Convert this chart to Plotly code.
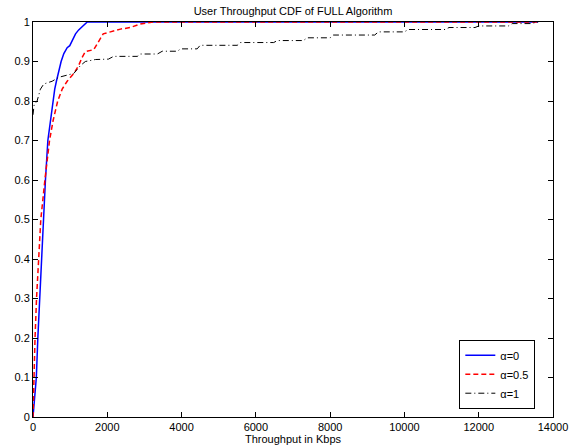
import plotly.graph_objects as go

# alpha = 0
x_a0 = [0, 90, 130, 180, 215, 265, 335, 400, 470, 535, 585, 630, 675, 757, 830, 920, 990, 1080, 1145, 1230, 1340, 1460, 13600]
y_a0 = [0, 0.1, 0.2, 0.3, 0.4, 0.5, 0.6, 0.7, 0.75, 0.8, 0.83, 0.85, 0.87, 0.9, 0.92, 0.935, 0.94, 0.96, 0.97, 0.98, 0.99, 1.0, 1.0]

# alpha = 0.5
x_a05 = [0, 20, 55, 95, 155, 210, 320, 445, 540, 665, 785, 920, 1100, 1230, 1320, 1410, 1635, 1770, 1890, 2085, 2355, 2620, 2890, 3240, 13600]
y_a05 = [0, 0.1, 0.2, 0.3, 0.4, 0.5, 0.6, 0.7, 0.75, 0.8, 0.83, 0.85, 0.87, 0.89, 0.91, 0.925, 0.93, 0.95, 0.97, 0.975, 0.982, 0.986, 0.995, 1.0, 1.0]

# alpha = 1
x_a1 = [0, 30, 110, 200, 290, 515, 695, 875, 1100, 1190, 1280, 1410, 1680, 2030, 2170, 2810, 2890, 3350, 3480, 3890,
        3970, 4420, 4500, 5500, 5580, 6480, 6580, 7280, 7380, 8000, 8090, 9200, 9300, 10000, 10100, 11100, 11200, 11900,
        12000, 12800, 12900, 13400, 13600]
y_a1 = [0.765, 0.79, 0.80, 0.83, 0.843, 0.85, 0.86, 0.865, 0.87, 0.88, 0.89, 0.90, 0.905, 0.906, 0.913, 0.913, 0.919, 0.919, 0.926, 0.926,
        0.932, 0.932, 0.941, 0.941, 0.948, 0.948, 0.953, 0.953, 0.960, 0.960, 0.967, 0.967, 0.975, 0.975, 0.981, 0.981, 0.986, 0.986,
        0.99, 0.99, 0.996, 0.996, 1.0]

x_ticks = [0, 2000, 4000, 6000, 8000, 10000, 12000, 14000]
x_tick_labels = ["0", "2000", "4000", "6000", "8000", "10000", "12000", "14000"]
y_ticks = [0, 0.1, 0.2, 0.3, 0.4, 0.5, 0.6, 0.7, 0.8, 0.9, 1]
y_tick_labels = ["0", "0.1", "0.2", "0.3", "0.4", "0.5", "0.6", "0.7", "0.8", "0.9", "1"]

FONT = "Liberation Sans, Arial, Helvetica, sans-serif"

fig = go.Figure()
fig.add_trace(go.Scatter(x=x_a0, y=y_a0, mode="lines", name="α=0",
                         line=dict(color="#0000ff", width=1.5)))
fig.add_trace(go.Scatter(x=x_a05, y=y_a05, mode="lines", name="α=0.5",
                         line=dict(color="#ff0000", width=1.5, dash="5px,3px")))
fig.add_trace(go.Scatter(x=x_a1, y=y_a1, mode="lines", name="α=1",
                         line=dict(color="#000000", width=1, dash="6px,3px,1px,3px")))

fig.update_layout(
    width=585, height=446,
    paper_bgcolor="white", plot_bgcolor="white",
    margin=dict(l=32.5, r=32, t=22.3, b=29.3, autoexpand=False),
    font=dict(family=FONT, size=11, color="black"),
    title=dict(text="User Throughput CDF of FULL Algorithm", x=0.5, xref="paper",
               y=1 - 11.5 / 446, yref="container", yanchor="middle",
               font=dict(family=FONT, size=11, color="black")),
    xaxis=dict(range=[0, 14000], tickvals=x_ticks, ticktext=x_tick_labels, ticks="inside", ticklen=5,
               tickcolor="black", showline=True, linecolor="black", linewidth=1, mirror="ticks",
               showgrid=False, zeroline=False, tickfont=dict(size=11),
               title=dict(text="Throughput in Kbps", standoff=1, font=dict(size=11))),
    yaxis=dict(range=[0, 1], tickvals=y_ticks, ticktext=y_tick_labels, ticks="inside", ticklen=5,
               tickcolor="black", showline=True, linecolor="black", linewidth=1, mirror="ticks",
               showgrid=False, zeroline=False, tickfont=dict(size=11)),
    legend=dict(x=0.966, xanchor="right", y=0.021, yanchor="bottom", bgcolor="white",
                bordercolor="black", borderwidth=1, font=dict(size=11),
                tracegroupgap=0, itemwidth=30),
    showlegend=True,
)

fig.write_html("out.html", config={"displayModeBar": False},
               post_script="document.body.style.margin='0';document.body.style.padding='0';")
